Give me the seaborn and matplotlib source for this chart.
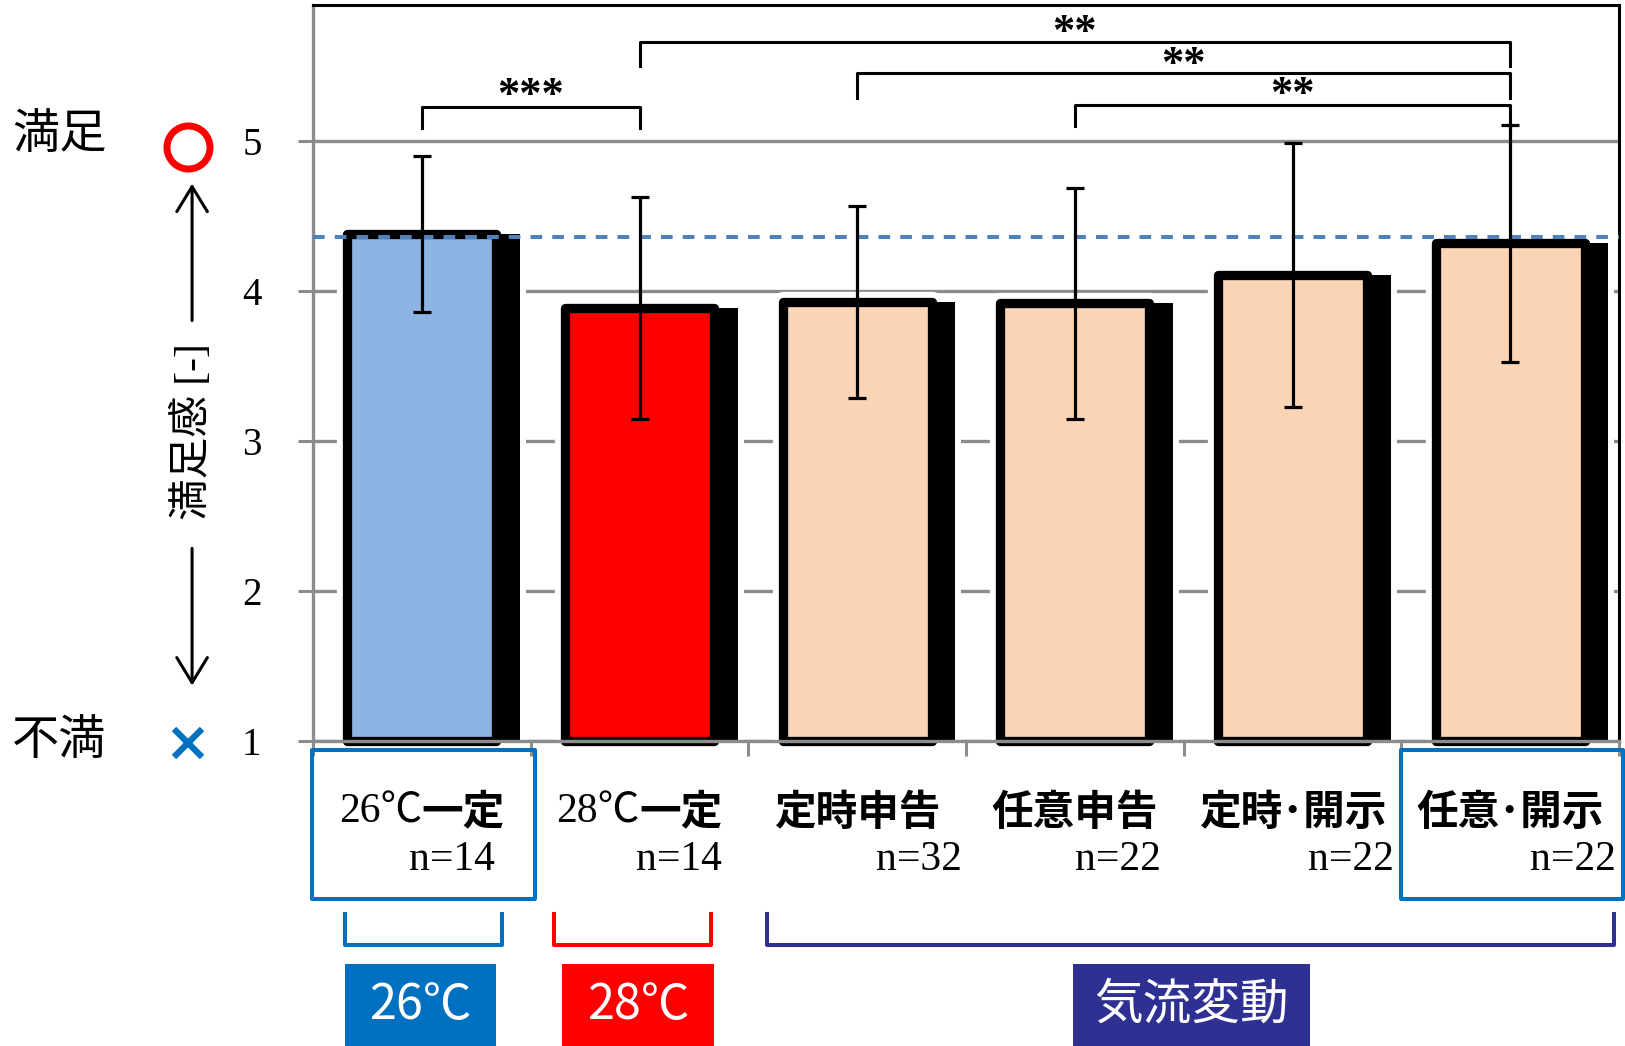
import re
import numpy as np
import pandas as pd
import matplotlib
matplotlib.use("Agg")
import matplotlib.pyplot as plt
import matplotlib.patheffects as pe
import matplotlib.transforms as mtransforms
from matplotlib.patches import Rectangle
import seaborn as sns

# ---------------- data ----------------
conditions = ["26℃一定", "28℃一定", "定時申告", "任意申告", "定時･開示", "任意･開示"]
sample_sizes = [14, 14, 32, 22, 22, 22]
mean_satisfaction = [4.38, 3.89, 3.93, 3.92, 4.11, 4.32]
sd_satisfaction = [0.52, 0.74, 0.64, 0.77, 0.88, 0.79]
reference_level = 4.36          # level of the 26℃一定 condition, drawn as a dashed line
y_ticks = [1, 2, 3, 4, 5]

scale_top_label = "満足"
scale_bottom_label = "不満"
y_label = "満足感 [-]"

# pairwise significance: (left condition, right condition, marker)
significance = [(0, 1, "***"), (1, 5, "**"), (2, 5, "**"), (3, 5, "**")]

group_labels = ["26℃", "28℃", "気流変動"]
group_members = [(0, 0), (1, 1), (2, 5)]
highlighted = [0, 5]

# ---------------- styles ----------------
PEACH = "#FBD5B5"
bar_palette = {
    conditions[0]: "#8EB4E3",
    conditions[1]: "#FF0000",
    conditions[2]: PEACH,
    conditions[3]: PEACH,
    conditions[4]: PEACH,
    conditions[5]: PEACH,
}
group_colors = ["#0070C0", "#FF0000", "#2E3192"]
GRID_GRAY = "#8C8C8C"
HILITE_BLUE = "#0070C0"
SERIF_CJK = ["Liberation Serif", "Noto Sans CJK JP"]
CJK = ["Noto Sans CJK JP"]

plt.rcParams["font.family"] = SERIF_CJK

Y_MIN, Y_MAX = 1, 5.91
FIG_W, FIG_H = 1625, 1046

fig = plt.figure(figsize=(FIG_W / 100, FIG_H / 100), dpi=100)
ax = fig.add_axes([313 / FIG_W, 305 / FIG_H, 1306 / FIG_W, 736 / FIG_H])

# ---------------- bars ----------------
df = pd.DataFrame({"condition": conditions, "satisfaction": mean_satisfaction})
EDGE_LW = 6.7
sns.barplot(
    data=df, x="condition", y="satisfaction", hue="condition",
    order=conditions, hue_order=conditions, palette=bar_palette,
    legend=False, errorbar=None, width=0.686, saturation=1,
    edgecolor="black", linewidth=EDGE_LW, ax=ax,
)

SHADOW_DX = 17
bar_effects = [
    pe.Stroke(offset=(SHADOW_DX, 0), linewidth=8.6, foreground="white"),
    pe.Stroke(linewidth=EDGE_LW + 8.6, foreground="white"),
    pe.SimplePatchShadow(offset=(SHADOW_DX, 0), shadow_rgbFace="black", alpha=1.0),
    pe.Normal(),
]
for bar in ax.patches:
    top = bar.get_y() + bar.get_height()
    bar.set_y(Y_MIN)
    bar.set_height(top - Y_MIN)
    bar.set_clip_on(False)
    bar.set_joinstyle("round")
    bar.set_path_effects(bar_effects)

ax.errorbar(
    np.arange(len(conditions)), mean_satisfaction, yerr=sd_satisfaction,
    fmt="none", ecolor="black", elinewidth=2.3, capsize=6.5, capthick=2.3,
    zorder=4,
)
ax.axhline(reference_level, color="#4F81BD", lw=2.9, dashes=(2.9, 2.5), zorder=3.5)

# ---------------- axes ----------------
ax.set_xlim(-0.5, len(conditions) - 0.5)
ax.set_xlabel("")
ax.set_ylabel("")
ax.set_yticks(y_ticks)
ax.yaxis.grid(True, color=GRID_GRAY, lw=2.4)
ax.xaxis.grid(False)
ax.set_axisbelow(True)
ax.tick_params(axis="y", direction="out", length=11, width=2.2, color=GRID_GRAY,
               pad=26, labelsize=28, labelfontfamily="Liberation Serif")
ax.set_xticks(range(len(conditions)), labels=[""] * len(conditions))
ax.set_xticks(np.arange(-0.5, len(conditions), 1), minor=True)
ax.tick_params(axis="x", which="major", length=0)
ax.tick_params(axis="x", which="minor", direction="out", length=11, width=2.2, color=GRID_GRAY)
for side in ("top", "right"):
    ax.spines[side].set_color("black")
    ax.spines[side].set_linewidth(2.2)
for side in ("left", "bottom"):
    ax.spines[side].set_color(GRID_GRAY)
    ax.spines[side].set_linewidth(2.4)

# ---------------- significance brackets ----------------
bracket_levels = [(5.09, 5.229), (5.50, 5.66), (5.29, 5.458), (5.10, 5.245)]
mark_lift = [0.075, 0.065, 0.05, 0.065]
for (i, j, mark), (leg, top), lift in zip(significance, bracket_levels, mark_lift):
    ax.plot([i, i, j, j], [leg, top, top, leg], color="black", lw=2.2,
            solid_joinstyle="round", clip_on=False, zorder=5)
    ax.text((i + j) / 2, top + lift, mark, ha="center", va="center",
            fontsize=32, fontweight="bold", family="Liberation Serif", clip_on=False)

# ---------------- category labels ----------------
renderer = fig.canvas.get_renderer()
to_data = ax.transData.inverted()
n_right_offsets = [0.336, 0.379, 0.481, 0.397, 0.466, 0.485]
LABEL_Y, N_Y = 0.523, 0.21
for i, (name, n, off) in enumerate(zip(conditions, sample_sizes, n_right_offsets)):
    m = re.match(r"^([0-9]+℃)(.*)$", name)
    head, tail = (m.group(1), m.group(2)) if m else ("", name)
    t_head = ax.text(i, LABEL_Y, head, ha="left", va="center", fontsize=30,
                     family=SERIF_CJK, clip_on=False)
    t_tail = ax.text(i, LABEL_Y, tail, ha="left", va="center", fontsize=30,
                     fontweight="bold", family=CJK, clip_on=False)
    w_head = t_head.get_window_extent(renderer).width if head else 0.0
    w_tail = t_tail.get_window_extent(renderer).width
    cx, cy = ax.transData.transform((i, LABEL_Y))
    x0 = to_data.transform((cx - (w_head + w_tail) / 2, cy))[0]
    x1 = to_data.transform((cx - (w_head + w_tail) / 2 + w_head, cy))[0]
    t_head.set_x(x0)
    t_tail.set_x(x1)
    ax.text(i + off, N_Y, f"n={n}", ha="right", va="center", fontsize=30,
            family="Liberation Serif", clip_on=False)

for i in highlighted:
    ax.add_patch(Rectangle((i - 0.503, -0.055), 1.022, 0.994, fill=False,
                           edgecolor=HILITE_BLUE, lw=2.9, joinstyle="round",
                           clip_on=False, zorder=5))

# ---------------- group brackets and tags ----------------
bracket_spans = [(-0.353, 0.368), (0.607, 1.328), (1.585, 5.476)]
tag_centers = [-0.006, 0.993, 3.535]
tag_widths = [0.694, 0.698, 1.09]
for label, (x0, x1), c, w, col in zip(group_labels, bracket_spans, tag_centers,
                                      tag_widths, group_colors):
    ax.plot([x0, x0, x1, x1], [-0.155, -0.362, -0.362, -0.155], color=col, lw=2.9,
            solid_joinstyle="round", clip_on=False)
    ax.add_patch(Rectangle((c - w / 2, -1.4), w, 1.4 - 0.489, facecolor=col,
                           edgecolor="none", clip_on=False))
    ax.text(c, -0.76, label, ha="center", va="center", color="white",
            fontsize=35, family=CJK, clip_on=False)

# ---------------- satisfaction scale annotation ----------------
blend = mtransforms.blended_transform_factory(fig.transFigure, ax.transData)
ax.text(0.0074, 5.045, scale_top_label, transform=blend, ha="left", va="center",
        fontsize=34, family=CJK)
ax.text(0.0074, 1.0, scale_bottom_label, transform=blend, ha="left", va="center",
        fontsize=34, family=CJK)
ax.plot([0.1157], [4.965], transform=blend, marker="o", ms=31, mfc="none",
        mec="#FF0000", mew=5, clip_on=False)
ax.plot([0.1157], [0.985], transform=blend, marker="x", ms=20,
        mec=HILITE_BLUE, mew=4.5, clip_on=False)
arrow_kw = dict(arrowstyle="->,head_length=0.9,head_width=0.55", lw=2.2,
                color="black", shrinkA=0, shrinkB=0, mutation_scale=20)
ax.annotate("", xy=(0.1182, 4.718), xytext=(0.1182, 3.805), xycoords=blend,
            textcoords=blend, arrowprops=arrow_kw, annotation_clip=False)
ax.annotate("", xy=(0.1182, 1.37), xytext=(0.1182, 2.285), xycoords=blend,
            textcoords=blend, arrowprops=arrow_kw, annotation_clip=False)
ax.text(0.1182, 3.065, y_label, transform=blend, rotation=90, ha="center",
        va="center", fontsize=30, family=SERIF_CJK)

ax.set_ylim(Y_MIN, Y_MAX)
fig.savefig("out.png", dpi=100)
